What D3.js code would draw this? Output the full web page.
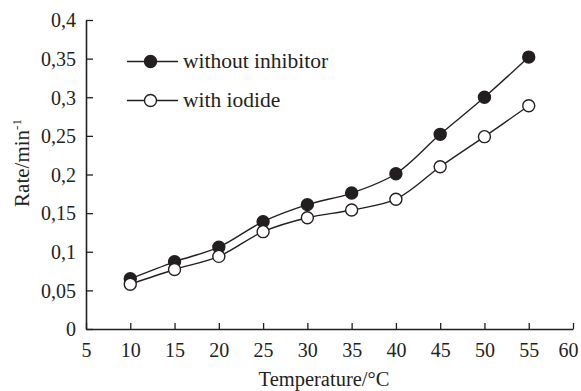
<!DOCTYPE html>
<html><head><meta charset="utf-8">
<script src="https://cdn.jsdelivr.net/npm/d3@7"></script>
<style>body{margin:0;background:#fff}svg{display:block}</style>
</head><body>
<svg id="c" width="581" height="391"></svg>
<script>
const temperatures = [10, 15, 20, 25, 30, 35, 40, 45, 50, 55];
const withoutInhibitor = [0.065, 0.087, 0.106, 0.139, 0.161, 0.176, 0.201, 0.252, 0.300, 0.352];
const withIodide = [0.058, 0.077, 0.094, 0.126, 0.144, 0.154, 0.168, 0.210, 0.249, 0.289];
const xTicks = [5, 10, 15, 20, 25, 30, 35, 40, 45, 50, 55, 60];
const yTicks = [0, 0.05, 0.1, 0.15, 0.2, 0.25, 0.3, 0.35, 0.4];
const seriesNames = ["without inhibitor", "with iodide"];

const FONT = "Liberation Serif, Times New Roman, Times, DejaVu Serif, serif";
const svg = d3.select("#c");
const ink = "#231f20";
const x = d3.scaleLinear().domain([5, 60]).range([86, 573]);
const y = d3.scaleLinear().domain([0, 0.4]).range([329, 20]);
const fmt = v => String(v).replace(".", ",");

// axes
const xAxis = svg.append("g").attr("transform", "translate(0,329)")
  .call(d3.axisBottom(x).tickValues(xTicks).tickSize(-6).tickPadding(14).tickFormat(d => d).tickSizeOuter(0));
const yAxis = svg.append("g").attr("transform", "translate(86,0)")
  .call(d3.axisLeft(y).tickValues(yTicks).tickSize(-7).tickPadding(10).tickFormat(fmt).tickSizeOuter(0));
[xAxis, yAxis].forEach(a => {
  a.attr("font-family", FONT).attr("font-size", 20);
  a.select(".domain").attr("stroke", ink).attr("stroke-width", 1.6);
  a.selectAll(".tick line").attr("stroke", ink).attr("stroke-width", 1.3);
  a.selectAll(".tick text").attr("fill", ink);
});
xAxis.selectAll(".tick text").attr("dy", "0.71em")
  .attr("dx", d => d === 60 ? -5 : 0);
yAxis.selectAll(".tick text").attr("dy", "0.34em");

// axis labels
svg.append("text").attr("x", 324).attr("y", 386).attr("text-anchor", "middle")
  .attr("font-family", FONT).attr("fill", ink).attr("font-size", 20.5).text("Temperature/°C");
const yl = svg.append("text").attr("transform", "translate(29,163) rotate(-90)")
  .attr("text-anchor", "middle").attr("font-family", FONT).attr("fill", ink).attr("font-size", 21);
yl.append("tspan").text("Rate/min");
yl.append("tspan").attr("dy", -8).attr("font-size", 13).text("-1");

const line = d3.line().x((d, i) => x(temperatures[i])).y(d => y(d)).curve(d3.curveCatmullRom.alpha(0.5));

const series = [
  {name: seriesNames[0], values: withoutInhibitor, fill: ink},
  {name: seriesNames[1], values: withIodide, fill: "#fff"}
];
series.forEach(s => {
  svg.append("path").attr("d", line(s.values)).attr("fill", "none")
    .attr("stroke", ink).attr("stroke-width", 1.4);
});
series.forEach(s => {
  svg.append("g").selectAll("circle").data(s.values).join("circle")
    .attr("cx", (d, i) => x(temperatures[i])).attr("cy", d => y(d)).attr("r", 6)
    .attr("fill", s.fill).attr("stroke", ink).attr("stroke-width", 1.4);
});

// legend
const legY = [61.5, 100.5];
series.forEach((s, i) => {
  const g = svg.append("g");
  g.append("line").attr("x1", 127).attr("x2", 178).attr("y1", legY[i]).attr("y2", legY[i])
    .attr("stroke", ink).attr("stroke-width", 1.4);
  g.append("circle").attr("cx", 150.5).attr("cy", legY[i]).attr("r", 6)
    .attr("fill", s.fill).attr("stroke", ink).attr("stroke-width", 1.4);
  g.append("text").attr("x", 183).attr("y", legY[i]).attr("dy", "0.3em")
    .attr("font-family", FONT).attr("fill", ink).attr("font-size", 21.5).text(s.name);
});
</script>
</body></html>
